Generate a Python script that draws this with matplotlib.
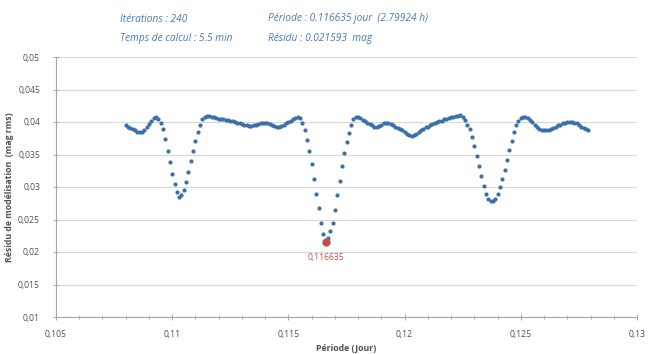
import numpy as np
import matplotlib
matplotlib.use("Agg")
import matplotlib.pyplot as plt
from matplotlib.ticker import MultipleLocator, FuncFormatter

# Period scan: start and step (jour)
period_start = 0.1080
period_step = 0.0001

# Residual (mag rms) for each scanned period
residual = [
    0.0395, 0.0393, 0.0391, 0.0389, 0.0387, 0.0385, 0.0384, 0.0385, 0.0388, 0.0392,
    0.0397, 0.0402, 0.0406, 0.0407, 0.0404, 0.0398, 0.0389, 0.0374, 0.0356, 0.0338,
    0.0320, 0.0305, 0.0293, 0.0285, 0.0287, 0.0295, 0.0307, 0.0323, 0.0340, 0.0356,
    0.0371, 0.0384, 0.0395, 0.0404, 0.0408, 0.0409, 0.0409, 0.0408, 0.0407, 0.0406,
    0.0405, 0.0404, 0.0404, 0.0403, 0.0403, 0.0402, 0.0401, 0.0400, 0.0399, 0.0398,
    0.0397, 0.0396, 0.0395, 0.0394, 0.0394, 0.0395, 0.0396, 0.0397, 0.0398, 0.0398,
    0.0398, 0.0398, 0.0397, 0.0395, 0.0394, 0.0393, 0.0393, 0.0394, 0.0396, 0.0398,
    0.0400, 0.0402, 0.0404, 0.0406, 0.0407, 0.0406, 0.0398, 0.0387, 0.0373, 0.0356,
    0.0336, 0.0313, 0.0289, 0.0267, 0.0245, 0.0227, 0.0219, 0.0222, 0.0232, 0.0245,
    0.0264, 0.0287, 0.0310, 0.0332, 0.0352, 0.0369, 0.0383, 0.0395, 0.0404, 0.0407,
    0.0408, 0.0406, 0.0403, 0.0401, 0.0399, 0.0397, 0.0395, 0.0393, 0.0393, 0.0394,
    0.0396, 0.0398, 0.0399, 0.0399, 0.0397, 0.0395, 0.0393, 0.0391, 0.0389, 0.0387,
    0.0384, 0.0382, 0.0380, 0.0379, 0.0380, 0.0382, 0.0385, 0.0388, 0.0390, 0.0392,
    0.0393, 0.0395, 0.0397, 0.0398, 0.0400, 0.0401, 0.0402, 0.0404, 0.0405, 0.0406,
    0.0407, 0.0408, 0.0409, 0.0410, 0.0411, 0.0408, 0.0403, 0.0396, 0.0389, 0.0377,
    0.0363, 0.0348, 0.0332, 0.0317, 0.0302, 0.0290, 0.0281, 0.0278, 0.0278, 0.0281,
    0.0289, 0.0300, 0.0312, 0.0326, 0.0342, 0.0357, 0.0371, 0.0384, 0.0395, 0.0402,
    0.0406, 0.0408, 0.0408, 0.0406, 0.0403, 0.0400, 0.0396, 0.0393, 0.0390, 0.0388,
    0.0387, 0.0387, 0.0388, 0.0389, 0.0391, 0.0393, 0.0395, 0.0396, 0.0398, 0.0399,
    0.0400, 0.0400, 0.0400, 0.0399, 0.0398, 0.0396, 0.0393, 0.0391, 0.0389, 0.0388,
]

best_period = 0.116635
best_residual = 0.021593
best_label = "0,116635"

header_left = ["Itérations : 240", "Temps de calcul : 5.5 min"]
header_right = ["Période : 0.116635 jour  (2.79924 h)", "Résidu : 0.021593  mag"]

x_label = "Période (Jour)"
y_label = "Résidu de modélisation  (mag rms)"

periods = period_start + period_step * np.arange(len(residual))

fig = plt.figure(figsize=(6.49, 3.54), dpi=100)
ax = fig.add_axes([56/649, 1 - 317/354, (637 - 56)/649, (317 - 57)/354])

blue = "#3a70aa"
red = "#c0504d"
grid_c = "#d9d9d9"
axis_c = "#a6a6a6"
text_c = "#505050"
head_c = "#4a78b5"

ax.plot(periods, residual, linestyle="none", marker="o", markersize=3.0,
        color=blue, markeredgewidth=0)
ax.plot([best_period], [best_residual], linestyle="none", marker="o",
        markersize=6, color=red, markeredgewidth=0)
ax.annotate(best_label, (best_period, best_residual), xytext=(0, -8),
            textcoords="offset points", ha="center", va="top",
            color=red, fontsize=6.2, family="Open Sans")

ax.set_xlim(0.105, 0.13)
ax.set_ylim(0.01, 0.05)
ax.xaxis.set_major_locator(MultipleLocator(0.005))
ax.xaxis.set_minor_locator(MultipleLocator(0.001))
ax.yaxis.set_major_locator(MultipleLocator(0.005))

def comma_fmt(v, pos):
    s = f"{v:.3f}".rstrip("0").rstrip(".")
    return s.replace(".", ",")

ax.xaxis.set_major_formatter(FuncFormatter(comma_fmt))
ax.yaxis.set_major_formatter(FuncFormatter(comma_fmt))

ax.grid(axis="y", color=grid_c, linewidth=0.8)
ax.set_axisbelow(True)
for s in ["top", "right"]:
    ax.spines[s].set_visible(False)
for s in ["left", "bottom"]:
    ax.spines[s].set_color(axis_c)
    ax.spines[s].set_linewidth(0.8)

ax.tick_params(axis="both", which="major", direction="inout", length=5,
               color=axis_c, width=0.7, labelsize=6.2, labelcolor=text_c)
ax.tick_params(axis="x", which="minor", direction="inout", length=3,
               color=axis_c, width=0.6)
ax.tick_params(axis="x", which="major", pad=7)
ax.tick_params(axis="y", which="major", pad=9)
for lab in ax.get_xticklabels() + ax.get_yticklabels():
    lab.set_family("Open Sans")

ax.set_xlabel(x_label, fontsize=6.3, fontweight="bold", color=text_c,
              family="Open Sans", labelpad=3)
ax.set_ylabel(y_label, fontsize=6.3, fontweight="bold", color=text_c,
              family="Open Sans", labelpad=3)

fig.text(120/649, 1 - 19/354, header_left[0], fontsize=7.3, style="italic",
         color=head_c, family="Open Sans", va="center")
fig.text(120/649, 1 - 38/354, header_left[1], fontsize=7.3, style="italic",
         color=head_c, family="Open Sans", va="center")
fig.text(268/649, 1 - 19/354, header_right[0], fontsize=7.3, style="italic",
         color=head_c, family="Open Sans", va="center")
fig.text(268/649, 1 - 38/354, header_right[1], fontsize=7.3, style="italic",
         color=head_c, family="Open Sans", va="center")

fig.savefig("out.png", dpi=100, facecolor="white")
